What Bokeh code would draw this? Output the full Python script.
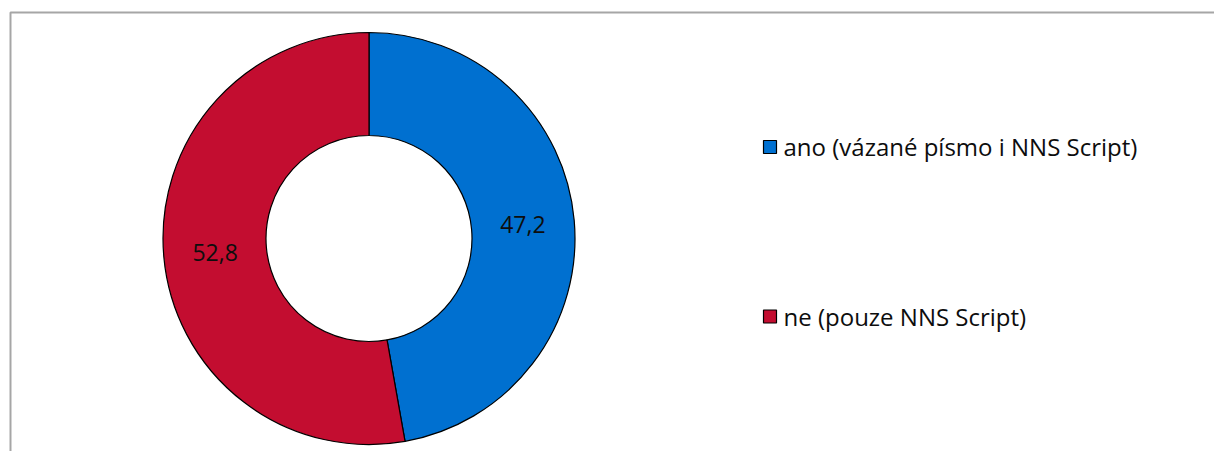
import math
from bokeh.plotting import figure
from bokeh.models import ColumnDataSource
from bokeh.core.properties import value
from bokeh.embed import file_html
from bokeh.resources import INLINE

categories = ["ano (vázané písmo i NNS Script)", "ne (pouze NNS Script)"]
values = [47.2, 52.8]
labels = ["47,2", "52,8"]
colors = ["#0070D0", "#C30D30"]

W, H = 1214, 451
p = figure(width=W, height=H, x_range=(0, W), y_range=(0, H),
           output_backend="svg", toolbar_location=None, min_border=0)
p.axis.visible = False
p.grid.visible = False
p.outline_line_color = None
p.background_fill_color = "white"
p.border_fill_color = "white"

def Y(y):
    return H - y

# frame (top and left edges visible)
p.line(x=[10, 10, W], y=[0, Y(12), Y(12)], line_color="#A6A6A6", line_width=2)

cx, cy = 368.5, Y(238)
r_out, r_in = 206, 103
total = sum(values)
start = math.pi / 2
starts, ends, lx, ly = [], [], [], []
for v in values:
    sweep = 2 * math.pi * v / total
    end = start - sweep
    starts.append(end)
    ends.append(start)
    mid = (start + end) / 2
    rm = (r_out + r_in) / 2
    lx.append(cx + rm * math.cos(mid))
    ly.append(cy + rm * math.sin(mid))
    start = end

src = ColumnDataSource(dict(x=[cx] * len(values), y=[cy] * len(values),
                            s=starts, e=ends, c=colors))
p.annular_wedge(x="x", y="y", inner_radius=r_in, outer_radius=r_out,
                start_angle="s", end_angle="e", fill_color="c",
                line_color="black", line_width=1.2, source=src)

p.text(x=lx, y=ly, text=labels, text_align="center",
       text_baseline="middle",
       text_font=value("Open Sans"), text_font_size="23px", text_color="#0d0d0d")

# legend
sq_y = [Y(146.5), Y(316)]
txt_y = [Y(146), Y(316)]
p.rect(x=[769.5] * 2, y=sq_y, width=13, height=13, fill_color=colors,
       line_color="black", line_width=1.2)
p.text(x=[783] * 2, y=txt_y, text=categories, text_align="left",
       text_baseline="middle", text_font=value("Open Sans"),
       text_font_size="24px", text_color="#0d0d0d")

open("out.html", "w").write(file_html(p, INLINE))
